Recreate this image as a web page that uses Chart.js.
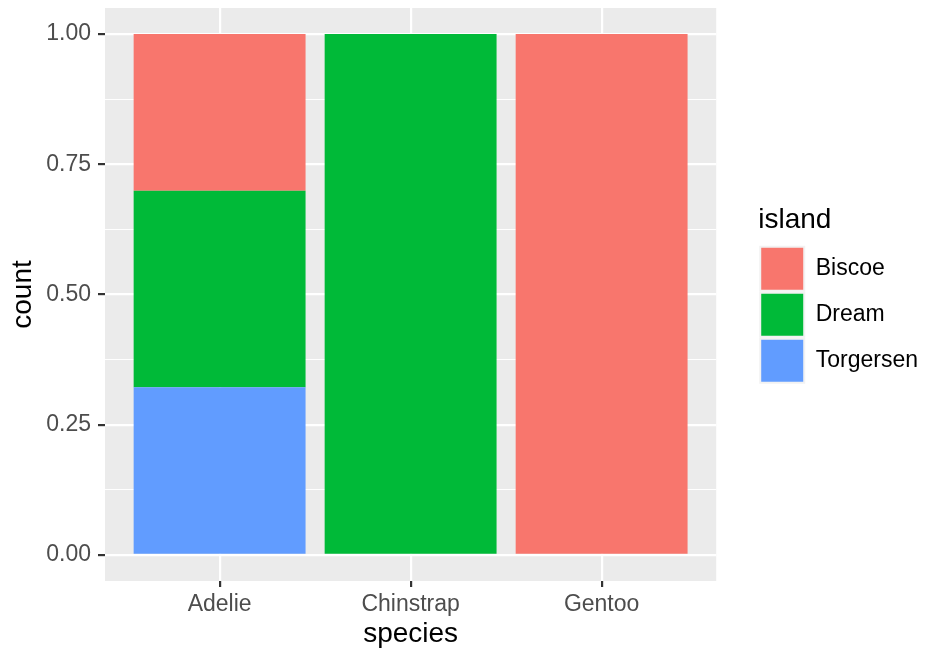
<!DOCTYPE html>
<html><head><meta charset="utf-8">
<script src="https://cdn.jsdelivr.net/npm/chart.js@4/dist/chart.umd.min.js"></script>
<style>html,body{margin:0;padding:0;background:#fff}#wrap{width:930px;height:649px}</style>
</head><body><div id="wrap"><canvas id="c" width="930" height="649"></canvas></div>
<script>
// ---- data ----
const categories = ['Adelie', 'Chinstrap', 'Gentoo'];
const islandNames = ['Torgersen', 'Dream', 'Biscoe'];   // stacking order, bottom to top
const torgersen = [0.322, 0, 0];
const dream     = [0.377, 1, 0];
const biscoe    = [0.301, 0, 1];
const islandColors = ['#619CFF', '#00BA38', '#F8766D'];
const yMajorBreaks = [0, 0.25, 0.5, 0.75, 1];
const yMinorBreaks = [0.125, 0.375, 0.625, 0.875];
const yLimits = [-0.05, 1.05];
const xLimits = [0.4, 3.6];
const xTitle = 'species';
const yTitle = 'count';
const legendTitle = 'island';

Chart.defaults.font.family = "'Liberation Sans', Arial, Helvetica, sans-serif";

const seriesValues = [torgersen, dream, biscoe];
const datasets = islandNames.map((name, i) => ({
  label: name,
  data: seriesValues[i].map((v, j) => ({x: j + 1, y: v === 0 ? null : v})),
  backgroundColor: islandColors[i],
  borderWidth: 0,
  xAxisID: 'x',
  yAxisID: 'y'
}));

const isMajor = v => yMajorBreaks.some(b => Math.abs(b - v) < 1e-9);
const isEdge = v => v < yMajorBreaks[0] - 1e-9 || v > yMajorBreaks[yMajorBreaks.length - 1] + 1e-9;

const panelBg = {
  id: 'panelBg',
  beforeDraw(chart) {
    const {ctx, chartArea: a} = chart;
    ctx.save();
    ctx.fillStyle = '#EBEBEB';
    ctx.fillRect(a.left, a.top, a.right - a.left, a.bottom - a.top);
    ctx.restore();
  }
};

new Chart(document.getElementById('c'), {
  type: 'bar',
  data: {datasets},
  plugins: [panelBg],
  options: {
    responsive: false,
    animation: false,
    events: [],
    layout: {padding: {left: 0, right: 2, top: 8, bottom: 0}},
    datasets: {bar: {categoryPercentage: 1, barPercentage: 0.9}},
    scales: {
      x: {
        type: 'linear',
        position: 'bottom',
        stacked: true,
        offset: false,
        min: xLimits[0], max: xLimits[1],
        afterBuildTicks: s => { s.ticks = categories.map((c, i) => ({value: i + 1})); },
        afterFit: s => { s.height = 68; s.paddingLeft = 0; s.paddingRight = 0; },
        ticks: {
          callback: v => categories[Math.round(v) - 1] || '',
          color: '#4D4D4D', font: {size: 23}, padding: 4, autoSkip: false, maxRotation: 0
        },
        grid: {color: '#FFFFFF', lineWidth: 2.2, tickColor: '#333333', tickWidth: 2.2, tickLength: 6, offset: false},
        border: {display: false},
        title: {display: true, text: xTitle, color: '#000000', font: {size: 28, lineHeight: 1}, padding: {top: 0, bottom: 1}}
      },
      y: {
        type: 'linear',
        position: 'left',
        stacked: true,
        min: yLimits[0], max: yLimits[1],
        afterBuildTicks: s => {
          s.ticks = [yLimits[0]].concat(yMajorBreaks, yMinorBreaks, [yLimits[1]])
            .sort((a, b) => a - b).map(v => ({value: v}));
        },
        afterFit: s => { s.width = 105; s.paddingTop = 0; s.paddingBottom = 0; },
        ticks: {
          callback: v => isEdge(v) ? null : (isMajor(v) ? v.toFixed(2) : ''),
          color: '#4D4D4D', font: {size: 23}, padding: 7, autoSkip: false
        },
        grid: {
          color: '#FFFFFF',
          lineWidth: c => (c.tick && isMajor(c.tick.value)) ? 2.2 : 1.1,
          tickColor: c => (c.tick && isMajor(c.tick.value)) ? '#333333' : 'rgba(0,0,0,0)',
          tickWidth: 2.2, tickLength: 7
        },
        border: {display: false},
        title: {display: true, text: yTitle, color: '#000000', font: {size: 28, lineHeight: 1}, padding: {top: 9, bottom: 0}}
      },
      gap: {
        type: 'linear',
        position: 'right',
        display: true,
        grid: {display: false, drawTicks: false},
        ticks: {display: false},
        border: {display: false},
        afterFit: s => { s.width = 42; s.paddingTop = 0; s.paddingBottom = 0; }
      }
    },
    plugins: {
      tooltip: {enabled: false},
      legend: {
        position: 'right',
        fullSize: false,
        reverse: true,
        align: 'center',
        maxWidth: 220,
        title: {display: true, text: legendTitle, color: '#000000', position: 'start', font: {size: 28}, padding: {top: 2, bottom: 5}},
        labels: {
          color: '#000000', font: {size: 23}, boxWidth: 44, boxHeight: 44, padding: 2,
          generateLabels: chart => Chart.defaults.plugins.legend.labels.generateLabels(chart)
            .map(l => Object.assign(l, {lineWidth: 2, strokeStyle: '#F2F2F2'}))
        }
      }
    }
  }
});
</script>
</body></html>
